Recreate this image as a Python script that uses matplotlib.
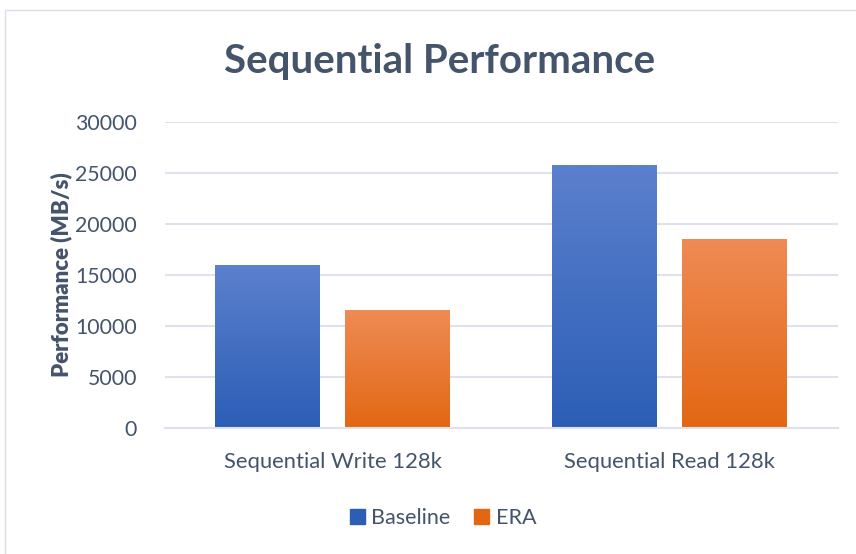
import numpy as np
import matplotlib.pyplot as plt
from matplotlib.colors import LinearSegmentedColormap
from matplotlib.patches import Rectangle

categories = ["Sequential Write 128k", "Sequential Read 128k"]
series = ["Baseline", "ERA"]
baseline = [15900, 25700]
era = [11500, 18450]
yticks = [0, 5000, 10000, 15000, 20000, 25000, 30000]

text_color = "#44546a"
plt.rcParams['font.family'] = ['Lato', 'DejaVu Sans']

fig = plt.figure(figsize=(8.56, 5.54), dpi=100)
fig.patches.append(Rectangle((5 / 856, -0.05), 1.1, 1 - 10 / 554 + 0.05,
                             transform=fig.transFigure, fill=False,
                             edgecolor="#dcdcea", linewidth=1.0))

ax = fig.add_axes([165 / 856, 126 / 554, 673 / 856, 306 / 554])

# top -> bottom gradient colours for each series
grads = {
    "Baseline": ("#5b80cd", "#2c5eb6"),
    "ERA": ("#ef8b55", "#e26713"),
}

x = np.arange(len(categories))
width = 0.31
offsets = [-0.195, 0.19]

for vals, name, off in zip([baseline, era], series, offsets):
    top_c, bot_c = grads[name]
    cmap = LinearSegmentedColormap.from_list(name, [bot_c, top_c])
    bars = ax.bar(x + off, vals, width, color=bot_c, label=name,
                  linewidth=0, zorder=2)
    for b in bars:
        b.set_alpha(0)
        x0, w, h = b.get_x(), b.get_width(), b.get_height()
        grad = np.linspace(0, 1, 256).reshape(-1, 1)
        ax.imshow(grad, cmap=cmap, origin="lower", aspect="auto",
                  extent=(x0, x0 + w, 0, h), zorder=2)

ax.set_xlim(-0.5, 1.5)
ax.set_ylim(0, 30000)
ax.set_yticks(yticks)
ax.set_yticklabels([str(t) for t in yticks])
ax.set_xticks(x)
ax.set_xticklabels(categories)
ax.grid(axis="y", color="#dfe1ec", linewidth=1.5, zorder=0)
ax.set_axisbelow(True)
for s in ["top", "right", "left"]:
    ax.spines[s].set_visible(False)
ax.spines["bottom"].set_color("#dfe1ec")
ax.spines["bottom"].set_linewidth(1.5)
ax.tick_params(axis="y", length=0, labelsize=15.3, colors=text_color, pad=20)
ax.tick_params(axis="x", length=0, labelsize=15.8, colors=text_color, pad=17)
ax.set_ylabel("Performance (MB/s)", fontsize=16, fontweight="heavy",
              color=text_color, labelpad=2)

fig.text(440 / 856, 1 - 62 / 554, "Sequential Performance", ha="center",
         va="center", fontsize=29, fontweight="bold", color=text_color)

handles = [Rectangle((0, 0), 1, 1, color=grads[n][1]) for n in series]
leg = fig.legend(handles, series, loc="center", bbox_to_anchor=(443 / 856, 1 - 518 / 554),
                 ncol=2, frameon=False, fontsize=15.5, handlelength=0.7,
                 handleheight=0.7, handletextpad=0.3, columnspacing=1.1)
for t in leg.get_texts():
    t.set_color(text_color)

fig.savefig("out.png", dpi=100, facecolor="white")
